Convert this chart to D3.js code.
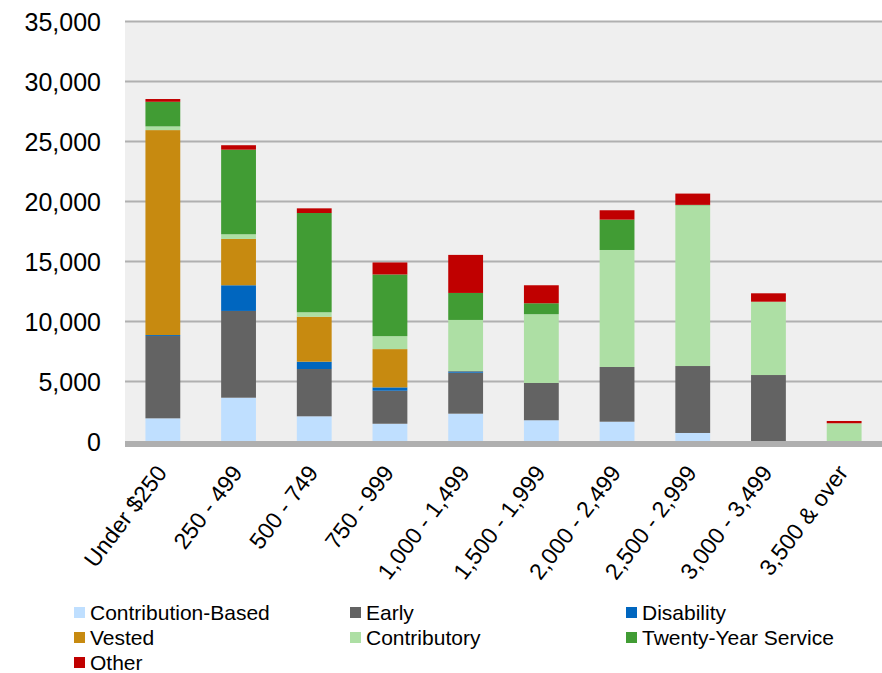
<!DOCTYPE html>
<html>
<head>
<meta charset="utf-8">
<script src="https://cdn.jsdelivr.net/npm/d3@7"></script>
<style>
  html, body { margin: 0; padding: 0; background: #ffffff; }
  svg { display: block; font-family: "Liberation Sans", Arial, sans-serif; }
</style>
</head>
<body>
<svg id="chart" width="882" height="673"></svg>
<script>
// Benefit ranges (monthly amount)
const categories = ["Under $250", "250 - 499", "500 - 749", "750 - 999", "1,000 - 1,499",
  "1,500 - 1,999", "2,000 - 2,499", "2,500 - 2,999", "3,000 - 3,499", "3,500 & over"];

// Retiree counts by benefit type, one value per range
const contributionBased = [1930, 3650, 2100, 1480, 2320, 1770, 1650, 710, 0, 0];
const early             = [6860, 7230, 3940, 2750, 3410, 3110, 4560, 5580, 5540, 0];
const disability        = [80, 2140, 610, 280, 120, 0, 0, 0, 0, 0];
const vested            = [17080, 3860, 3750, 3190, 30, 0, 0, 0, 0, 0];
const contributory      = [310, 390, 370, 1080, 4250, 5730, 9750, 13390, 6110, 1520];
const twentyYear        = [2050, 7050, 8270, 5140, 2250, 910, 2530, 40, 0, 0];
const other             = [230, 370, 390, 1000, 3170, 1500, 780, 940, 700, 190];

const seriesNames = ["Contribution-Based", "Early", "Disability", "Vested",
  "Contributory", "Twenty-Year Service", "Other"];
const seriesValues = [contributionBased, early, disability, vested, contributory, twentyYear, other];
const seriesColors = ["#bfdfff", "#636363", "#0066bf", "#c78a10", "#addfa4", "#419c34", "#c00000"];

const yTicks = [0, 5000, 10000, 15000, 20000, 25000, 30000, 35000];

const rows = categories.map((c, i) => {
  const r = { category: c };
  seriesNames.forEach((s, k) => { r[s] = seriesValues[k][i]; });
  return r;
});

const svg = d3.select("#chart");
const plot = { left: 125, right: 882, top: 21.5, bottom: 441.5 };

const x = d3.scaleBand().domain(categories).range([plot.left, plot.right]).paddingInner(0.54).paddingOuter(0.27);
const y = d3.scaleLinear().domain([0, 35000]).range([plot.bottom, plot.top]);

// plot background
svg.append("rect")
  .attr("x", plot.left).attr("y", plot.top)
  .attr("width", plot.right - plot.left).attr("height", plot.bottom - plot.top)
  .attr("fill", "#efefef");

// gridlines
svg.append("g").selectAll("line").data(yTicks.slice(1)).join("line")
  .attr("x1", plot.left).attr("x2", plot.right)
  .attr("y1", d => y(d)).attr("y2", d => y(d))
  .attr("stroke", "#b0b0b0").attr("stroke-width", 2);

// stacked bars
const stack = d3.stack().keys(seriesNames);
const layers = stack(rows);
const color = d3.scaleOrdinal().domain(seriesNames).range(seriesColors);

svg.append("g").selectAll("g").data(layers).join("g")
  .attr("fill", d => color(d.key))
  .selectAll("rect").data(d => d).join("rect")
  .attr("x", d => x(d.data.category))
  .attr("width", x.bandwidth())
  .attr("y", d => y(d[1]))
  .attr("height", d => Math.max(0, y(d[0]) - y(d[1])));

// category axis line
svg.append("line")
  .attr("x1", plot.left).attr("x2", plot.right)
  .attr("y1", plot.bottom + 2.5).attr("y2", plot.bottom + 2.5)
  .attr("stroke", "#afafaf").attr("stroke-width", 6);

// y axis labels
const yAxis = d3.axisLeft(y).tickValues(yTicks).tickFormat(d3.format(",")).tickSize(0).tickPadding(0);
const yg = svg.append("g").attr("transform", "translate(101,1)").call(yAxis);
yg.select(".domain").remove();
yg.selectAll("text").attr("font-size", 25).attr("fill", "#000")
  .attr("font-family", "Liberation Sans, Arial, sans-serif");

// category labels, rotated
const xAxis = d3.axisBottom(x).tickSize(0).tickPadding(0);
const xg = svg.append("g").call(xAxis);
xg.select(".domain").remove();
xg.selectAll(".tick").attr("transform", d => `translate(${x(d) + x.bandwidth() / 2 + 5},473)`);
xg.selectAll("text")
  .attr("y", 0).attr("dy", 0)
  .attr("text-anchor", "end")
  .attr("transform", "rotate(-53)")
  .attr("font-size", 23).attr("fill", "#000")
  .attr("font-family", "Liberation Sans, Arial, sans-serif");

// legend
const legendCols = [74, 350, 626];
const legendRows = [613, 638, 663];
const legend = svg.append("g").selectAll("g").data(seriesNames).join("g")
  .attr("transform", (d, i) => `translate(${legendCols[i % 3]},${legendRows[Math.floor(i / 3)]})`);
legend.append("rect")
  .attr("x", 0).attr("y", -6).attr("width", 11).attr("height", 11)
  .attr("fill", d => color(d));
legend.append("text")
  .attr("x", 16).attr("y", 0).attr("dy", "0.35em")
  .attr("font-size", 21).attr("fill", "#000")
  .text(d => d);
</script>
</body>
</html>
